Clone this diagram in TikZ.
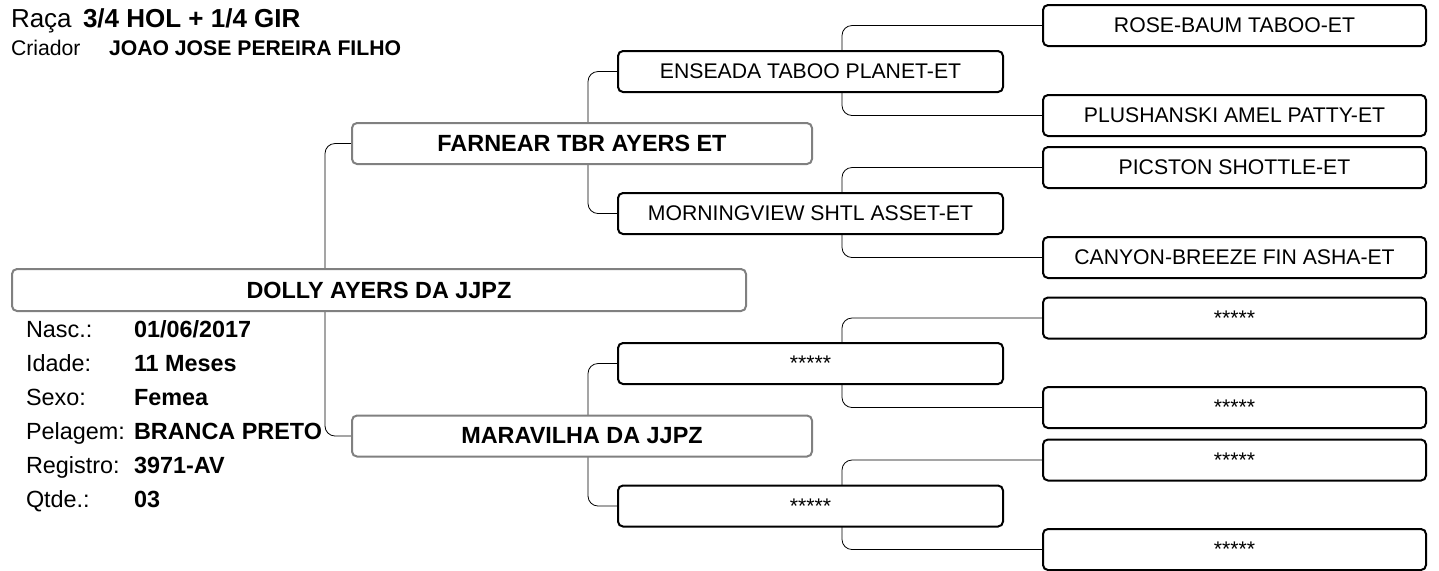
\documentclass[tikz,border=0pt]{standalone}
\usepackage{fontspec}
\setmainfont{Liberation Sans}
\usetikzlibrary{backgrounds}

\definecolor{framegray}{RGB}{128,128,128}

\begin{document}
\begin{tikzpicture}[x=0.5pt, y=-0.5pt, line width=1pt,
  animal/.style={draw=framegray, fill=white, rounded corners=2.5pt, minimum width=230pt, minimum height=20.5pt, inner sep=0pt, font=\fontsize{11.7}{14}\selectfont\bfseries},
  anc/.style={draw=black, fill=white, rounded corners=2.5pt, minimum height=20.5pt, inner sep=0pt, font=\fontsize{10.6}{13}\selectfont},
  gpbox/.style={anc, minimum width=192.5pt},
  ggpbox/.style={anc, minimum width=191.5pt},
  link/.style={rounded corners=5pt},
  lbl/.style={anchor=base west, inner sep=0pt, font=\fontsize{11.7}{14}\selectfont}]

\useasboundingbox (0,0) rectangle (1439,570);

% header
\node[lbl, font=\fontsize{13}{15}\selectfont] (raca) at (10,27) {Raça};
\node[lbl, font=\fontsize{13}{15}\selectfont\bfseries] (racaval) at (82,27) {3/4 HOL + 1/4 GIR};
\node[lbl, font=\fontsize{10.6}{12}\selectfont] (criador) at (10,55) {Criador};
\node[lbl, font=\fontsize{10.6}{12}\selectfont\bfseries] (criadorval) at (108,55) {JOAO JOSE PEREIRA FILHO};

% animal, sire and dam
\node[animal, minimum width=367pt, minimum height=21pt] (subj) at (379,290) {DOLLY AYERS DA JJPZ};
\node[animal] (sire) at (582,143.5) {FARNEAR TBR AYERS ET};
\node[animal] (dam) at (582,436) {MARAVILHA DA JJPZ};

% data of the animal
\foreach \lab/\val [count=\i from 0] in {{Nasc.:}/{01/06/2017}, {Idade:}/{11 Meses}, {Sexo:}/{Femea}, {Pelagem:}/{BRANCA PRETO}, {Registro:}/{3971-AV}, {Qtde.:}/{03}} {
  \node[lbl] (lab\i) at (25,{337+34*\i}) {\lab};
  \node[lbl, font=\fontsize{11.7}{14}\selectfont\bfseries] (val\i) at (133,{337+34*\i}) {\val};
}

% grandparents
\node[gpbox] (gp1) at (810.5,71.5) {ENSEADA TABOO PLANET-ET};
\node[gpbox] (gp2) at (810.5,213.5) {MORNINGVIEW SHTL ASSET-ET};
\node[gpbox] (gp3) at (810.5,363.5) {*****};
\node[gpbox] (gp4) at (810.5,506) {*****};

% great grandparents
\node[ggpbox] (ggp1) at (1234.5,25.5) {ROSE-BAUM TABOO-ET};
\node[ggpbox] (ggp2) at (1234.5,115.5) {PLUSHANSKI AMEL PATTY-ET};
\node[ggpbox] (ggp3) at (1234.5,167.5) {PICSTON SHOTTLE-ET};
\node[ggpbox] (ggp4) at (1234.5,257.5) {CANYON-BREEZE FIN ASHA-ET};
\node[ggpbox] (ggp5) at (1234.5,318) {*****};
\node[ggpbox] (ggp6) at (1234.5,407.5) {*****};
\node[ggpbox] (ggp7) at (1234.5,460) {*****};
\node[ggpbox] (ggp8) at (1234.5,549.5) {*****};

% brackets behind the boxes
\begin{scope}[on background layer]
\draw[link] (sire.west) -- ++(-26,0) |- (dam.west);
\draw[link] (gp1.west) -- ++(-29,0) |- (gp2.west);
\draw[link] (gp3.west) -- ++(-29,0) |- (gp4.west);
\foreach \a/\b in {1/2,3/4,5/6,7/8}
  \draw[link] (ggp\a.west) -- ++(-200,0) |- (ggp\b.west);
\end{scope}

\end{tikzpicture}
\end{document}
